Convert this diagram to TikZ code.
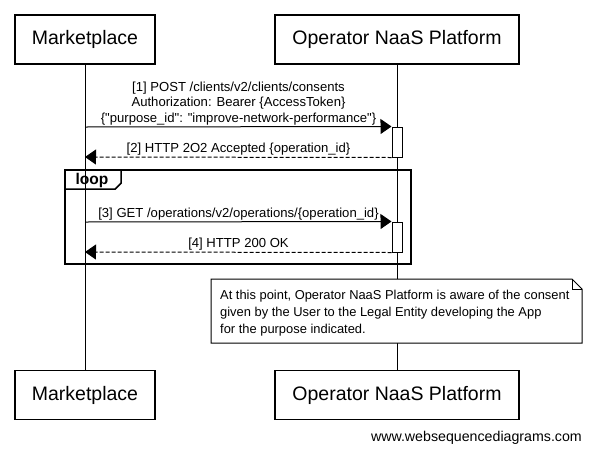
\documentclass[tikz,border=0pt]{standalone}
\usepackage{fontspec}
\setmainfont{Liberation Sans}[Ligatures=TeXOff]
\usetikzlibrary{arrows.meta}
\begin{document}
\begin{tikzpicture}[x=1pt,y=-1pt,
  participant/.style={draw,line width=1.2pt,fill=white,minimum height=49pt,inner sep=0pt,font=\fontsize{19.5}{22}\selectfont},
  lifeline/.style={line width=1pt},
  activation/.style={draw,line width=1pt,fill=white,minimum width=10pt,minimum height=30pt,inner sep=0pt},
  msg/.style={line width=1pt,-{Triangle[length=11pt,width=15pt]}},
  ret/.style={line width=1pt,dash pattern=on 4pt off 2pt,-{Triangle[length=11pt,width=15pt]}},
  msglabel/.style={font=\fontsize{13.1}{15.5}\selectfont,align=center,inner sep=0pt},
  frame/.style={draw,line width=1.8pt},
  notebox/.style={draw,line width=1pt,fill=white},
  notetext/.style={font=\fontsize{12.9}{17}\selectfont,align=left,inner sep=0pt,anchor=north west}
]
\useasboundingbox (0,0) rectangle (591,453);
\fill[white] (0,0) rectangle (591,453);
% participants
\node[participant,minimum width=140pt] (mt) at (85,39.5) {Marketplace};
\node[participant,minimum width=244pt] (ot) at (397,39.5) {Operator NaaS Platform};
\node[participant,minimum width=140pt] (mb) at (85,395) {Marketplace};
\node[participant,minimum width=244pt] (ob) at (397,395) {Operator NaaS Platform};
% lifelines
\draw[lifeline] (mt.south) -- (mb.north);
\draw[lifeline] (ot.south) -- (ob.north);
% coordinates on Marketplace lifeline
\coordinate (m1) at (85,127);
\coordinate (m2) at (85,157);
\coordinate (m3) at (85,222);
\coordinate (m4) at (85,252);
% activations
\node[activation] (a1) at (397,142) {};
\node[activation] (a2) at (397,237) {};
% messages
\draw[msg] (m1) -- (a1.north west);
\node[msglabel,anchor=south] (l1) at (238.5,125) {[1] POST /clients/v2/clients/consents\\Authorization: Bearer \{AccessToken\}\\\{"purpose\_id": "improve-network-performance"\}};
\draw[ret] (a1.south west) -- (m2);
\node[msglabel,anchor=south] (l2) at (238.5,155) {[2] HTTP 2O2 Accepted \{operation\_id\}};
% loop frame
\node[frame,minimum width=346pt,minimum height=94pt,inner sep=0pt] (loopf) at (238,217) {};
\draw[line width=1.5pt] (loopf.north west) ++(0,20) coordinate (t1) -- ++(51,0) coordinate (t2) -- ++(6,-6) coordinate (t3) -- ++(0,-14) coordinate (t4);
\node[font=\bfseries\fontsize{15.5}{17}\selectfont,inner sep=0pt] (looplbl) at (92,180.5) {loop};
\draw[msg] (m3) -- (a2.north west);
\node[msglabel,anchor=south] (l3) at (238.5,220) {[3] GET /operations/v2/operations/\{operation\_id\}};
\draw[ret] (a2.south west) -- (m4);
\node[msglabel,anchor=south] (l4) at (238.5,250) {[4] HTTP 200 OK};
% note
\draw[notebox] (211,279) -- (572,279) -- (582,289) -- (582,343) -- (211,343) -- cycle;
\draw[line width=0.8pt] (572,279) -- (572,289) -- (582,289);
\node[notetext] (note) at (220,290) {At this point, Operator NaaS Platform is aware of the consent\\given by the User to the Legal Entity developing the App\\for the purpose indicated.};
% footer
\node[font=\fontsize{14.2}{16}\selectfont,anchor=east,inner sep=0pt] (footer) at (582,438) {www.websequencediagrams.com};
\end{tikzpicture}
\end{document}
